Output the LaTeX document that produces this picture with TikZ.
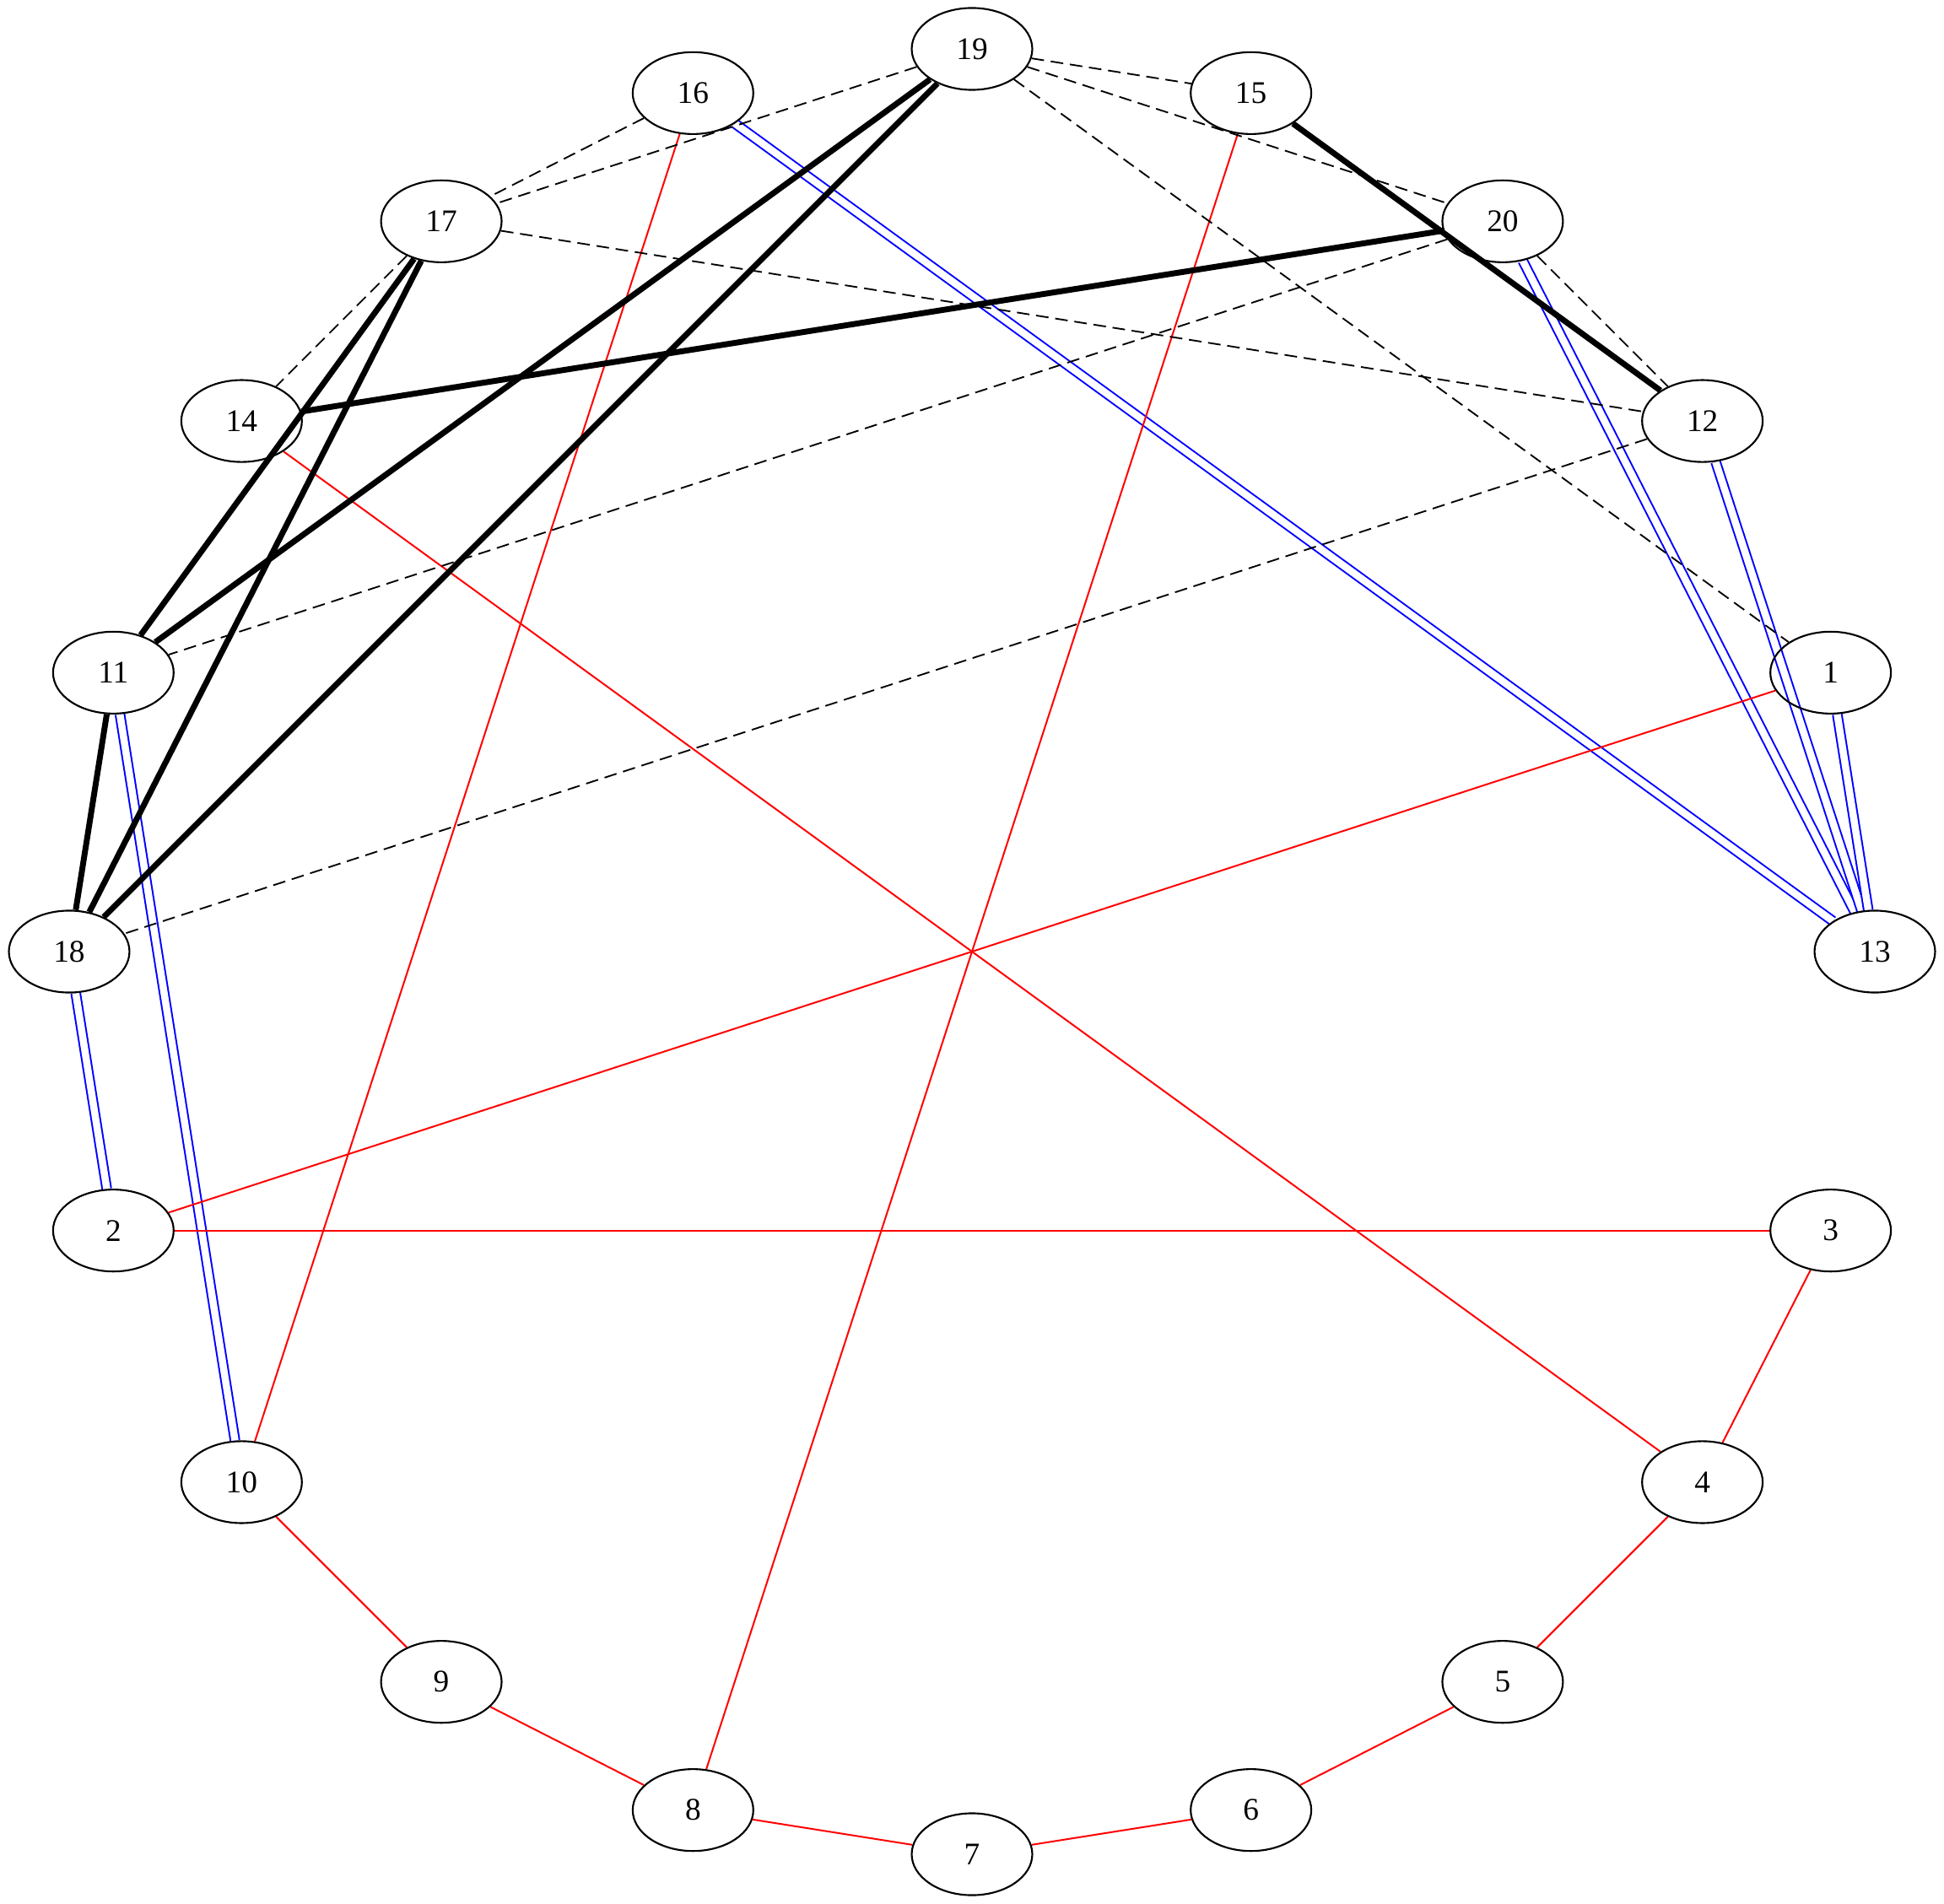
\documentclass[tikz,border=0pt]{standalone}
\usepackage{fontspec}
\setmainfont{Liberation Serif}
\usetikzlibrary{shapes.geometric}
\pgfdeclarelayer{background}
\pgfsetlayers{background,main}
\begin{document}
\begin{tikzpicture}[
  vtx/.style={draw, ellipse, line width=0.8pt, minimum width=53.6pt, minimum height=36.4pt, inner sep=0pt, font=\fontsize{14}{16}\selectfont},
  redge/.style={draw=red, line width=0.75pt},
  bedge/.style={draw=blue, line width=0.75pt, double=white, double distance=3.2pt},
  dedge/.style={draw=black, line width=0.7pt, dash pattern=on 5.6pt off 3pt},
  tedge/.style={draw=black, line width=2.6pt}
]
\path[use as bounding box] (-432pt,-423pt) rectangle (432pt,423pt);
\def\R{401.25pt}
\node[vtx] (n19) at (90:\R) {19};
\node[vtx] (n16) at (108:\R) {16};
\node[vtx] (n17) at (126:\R) {17};
\node[vtx] (n14) at (144:\R) {14};
\node[vtx] (n11) at (162:\R) {11};
\node[vtx] (n18) at (180:\R) {18};
\node[vtx] (n2) at (198:\R) {2};
\node[vtx] (n10) at (216:\R) {10};
\node[vtx] (n9) at (234:\R) {9};
\node[vtx] (n8) at (252:\R) {8};
\node[vtx] (n7) at (270:\R) {7};
\node[vtx] (n6) at (288:\R) {6};
\node[vtx] (n5) at (306:\R) {5};
\node[vtx] (n4) at (324:\R) {4};
\node[vtx] (n3) at (342:\R) {3};
\node[vtx] (n13) at (0:\R) {13};
\node[vtx] (n1) at (18:\R) {1};
\node[vtx] (n12) at (36:\R) {12};
\node[vtx] (n20) at (54:\R) {20};
\node[vtx] (n15) at (72:\R) {15};
\begin{pgfonlayer}{background}
% blue double edges
\draw[bedge] (n18) -- (n2);
\draw[bedge] (n11) -- (n10);
\draw[bedge] (n16) -- (n13);
\draw[bedge] (n20) -- (n13);
\draw[bedge] (n12) -- (n13);
\draw[bedge] (n1) -- (n13);
% red edges
\draw[redge] (n1) -- (n2);
\draw[redge] (n2) -- (n3);
\draw[redge] (n3) -- (n4);
\draw[redge] (n4) -- (n5);
\draw[redge] (n5) -- (n6);
\draw[redge] (n6) -- (n7);
\draw[redge] (n7) -- (n8);
\draw[redge] (n8) -- (n9);
\draw[redge] (n9) -- (n10);
\draw[redge] (n10) -- (n16);
\draw[redge] (n8) -- (n15);
\draw[redge] (n4) -- (n14);
% dashed edges
\draw[dedge] (n16) -- (n17);
\draw[dedge] (n19) -- (n17);
\draw[dedge] (n19) -- (n15);
\draw[dedge] (n19) -- (n20);
\draw[dedge] (n19) -- (n1);
\draw[dedge] (n17) -- (n12);
\draw[dedge] (n17) -- (n14);
\draw[dedge] (n20) -- (n12);
\draw[dedge] (n20) -- (n11);
\draw[dedge] (n12) -- (n18);
% thick edges
\draw[tedge] (n15) -- (n12);
\draw[tedge] (n20) -- (n14);
\draw[tedge] (n19) -- (n11);
\draw[tedge] (n19) -- (n18);
\draw[tedge] (n17) -- (n11);
\draw[tedge] (n17) -- (n18);
\draw[tedge] (n11) -- (n18);
\end{pgfonlayer}
\end{tikzpicture}
\end{document}
